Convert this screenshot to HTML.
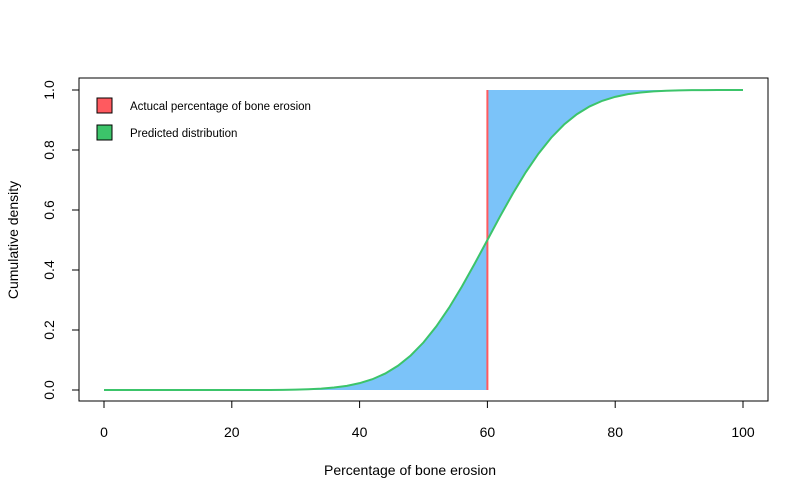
<!DOCTYPE html>
<html><head><meta charset="utf-8"><style>
body{margin:0;background:#fff;}
svg{display:block;font-family:"Liberation Sans",Arial,sans-serif;}
</style></head><body>
<svg id="chart" width="809" height="500"></svg>
<script>
const xs=[0,2,4,6,8,10,12,14,16,18,20,22,24,26,28,30,32,34,36,38,40,42,44,46,48,50,52,54,56,58,60,62,64,66,68,70,72,74,76,78,80,82,84,86,88,90,92,94,96,98,100];
const cdf=[0,0,0,0,0,0,0,0,0,0,0,0,0,0.0001,0.0003,0.0013,0.0026,0.0047,0.0082,0.0139,0.0228,0.0359,0.0548,0.0808,0.1151,0.1587,0.2119,0.2743,0.3446,0.4207,0.5,0.5793,0.6554,0.7257,0.7881,0.8413,0.8849,0.9192,0.9452,0.9641,0.9772,0.9861,0.9918,0.9953,0.9974,0.9987,0.9994,0.9997,0.9999,1,1];
const actual=[60];
const xTicks=[0,20,40,60,80,100];
const yTicks=[0,0.2,0.4,0.6,0.8,1];
const yTickLabels=["0.0","0.2","0.4","0.6","0.8","1.0"];
const legendLabels=["Actucal percentage of bone erosion","Predicted distribution"];
const NS="http://www.w3.org/2000/svg";
const svg=document.getElementById('chart');
const X=v=>104+v*6.39, Y=v=>390-v*300;
function el(t,a,p){const e=document.createElementNS(NS,t);for(const k in a)e.setAttribute(k,a[k]);(p||svg).appendChild(e);return e;}
let a=actual[0];
let d="M"+X(xs[0])+","+Y(0);
xs.forEach((x,i)=>{if(x<=a)d+=" L"+X(x)+","+Y(cdf[i]);});
d+=" L"+X(a)+","+Y(0)+" Z";
let s=el('path',{d:d,fill:'#7bc3f9'});


let d2="M"+X(a)+","+Y(1);
xs.forEach((x,i)=>{if(x>=a)d2+=" L"+X(x)+","+Y(cdf[i]);});
d2+=" Z";
s=el('path',{d:d2,fill:'#7bc3f9'});


let r=el('line',{x1:X(a),x2:X(a),y1:Y(0),y2:Y(1),stroke:'#ff5a5f','stroke-width':2});


let pts=xs.map((x,i)=>X(x)+","+Y(cdf[i])).join(" ");
let c=el('polyline',{points:pts,fill:'none',stroke:'#3cc46a','stroke-width':2});


let b=el('rect',{x:79,y:78,width:689,height:323,fill:'none',stroke:'#000'});


let xa=el('line',{x1:X(0),x2:X(100),y1:401,y2:401,stroke:'#000'});


xTicks.forEach(t=>{
 el('line',{x1:X(t),x2:X(t),y1:401,y2:408,stroke:'#000'});
 let tx=el('text',{x:X(t),y:437,'text-anchor':'middle','font-size':14});tx.textContent=t;
 
 
});
let ya=el('line',{x1:79,x2:79,y1:Y(0),y2:Y(1),stroke:'#000'});


yTicks.forEach((t,i)=>{
 el('line',{x1:72,x2:79,y1:Y(t),y2:Y(t),stroke:'#000'});
 let tx=el('text',{x:54,y:Y(t),'text-anchor':'middle','font-size':14,transform:`rotate(-90 54 ${Y(t)})`});tx.textContent=yTickLabels[i];
 
 
});
let xt=el('text',{x:410,y:475,'text-anchor':'middle','font-size':14});xt.textContent="Percentage of bone erosion";


let yt=el('text',{x:18,y:240,'text-anchor':'middle','font-size':14,transform:'rotate(-90 18 240)'});yt.textContent="Cumulative density";


const cols=['#ff5a5f','#3cc46a'];
legendLabels.forEach((l,i)=>{
 const yy=98+i*27;
 let rc=el('rect',{x:97,y:yy,width:15,height:15,fill:cols[i],stroke:'#000'});
 
 
 let tx=el('text',{x:130,y:yy+12,'font-size':11.5});tx.textContent=l;
 
 
});
</script>
</body></html>
